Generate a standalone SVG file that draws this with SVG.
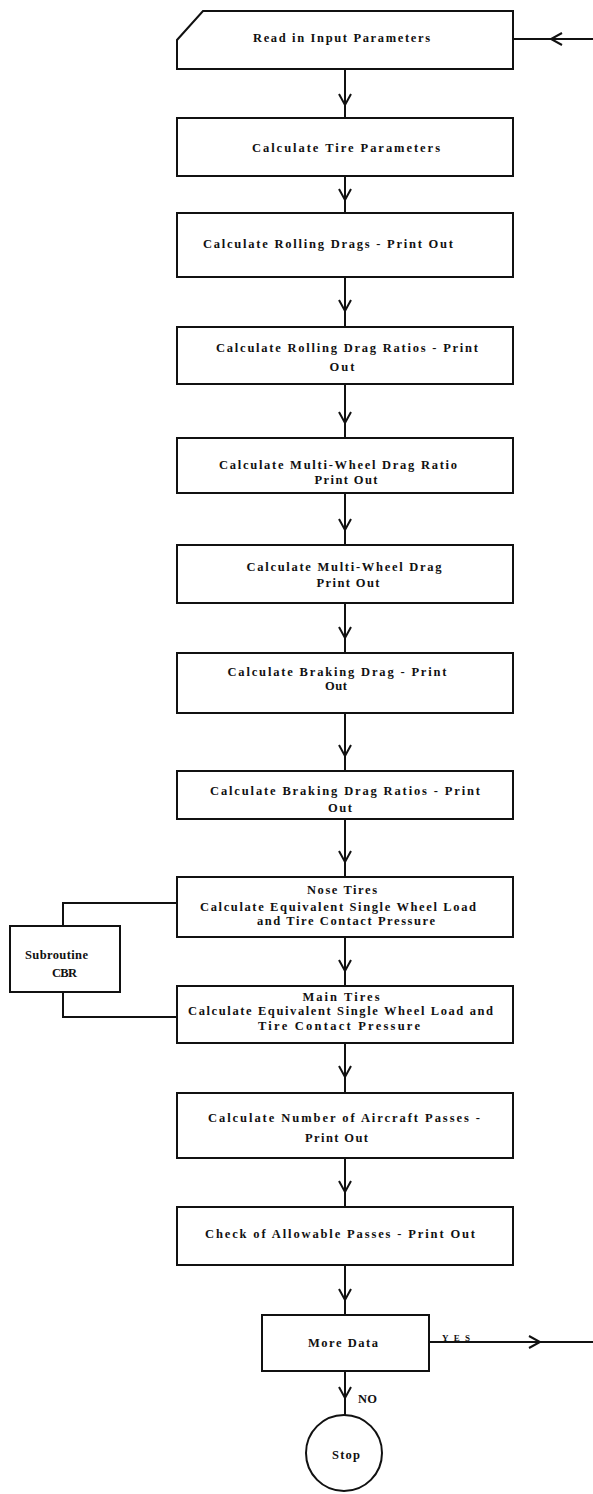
<svg xmlns="http://www.w3.org/2000/svg" width="593" height="1494" viewBox="0 0 593 1494">
<style>
.box{fill:#fff;stroke:#111;stroke-width:2}
.ln{fill:none;stroke:#111;stroke-width:2}
.t{font-family:"Liberation Serif","Times New Roman",serif;font-weight:bold;font-size:12.5px;fill:#111;text-anchor:middle}
.s{font-size:9px}
</style>
<defs>
<marker id="v" markerUnits="userSpaceOnUse" viewBox="-13 -8 15 16" refX="0" refY="0" markerWidth="15" markerHeight="16" orient="auto" overflow="visible">
<path d="M-11,-6 L0,0 L-11,6" fill="none" stroke="#111" stroke-width="2"/>
</marker>
</defs>
<rect width="593" height="1494" fill="#fff"/>
<g id="connectors">
<path class="ln" d="M593,39 L551,39 L513,39" marker-mid="url(#v)"/>
<path class="ln" d="M345,69 L345,105 L345,118" marker-mid="url(#v)"/>
<path class="ln" d="M345,176 L345,200 L345,213" marker-mid="url(#v)"/>
<path class="ln" d="M345,277 L345,311 L345,327" marker-mid="url(#v)"/>
<path class="ln" d="M345,384 L345,423 L345,438" marker-mid="url(#v)"/>
<path class="ln" d="M345,493 L345,530 L345,545" marker-mid="url(#v)"/>
<path class="ln" d="M345,603 L345,638 L345,653" marker-mid="url(#v)"/>
<path class="ln" d="M345,713 L345,756 L345,771" marker-mid="url(#v)"/>
<path class="ln" d="M345,819 L345,862 L345,877" marker-mid="url(#v)"/>
<path class="ln" d="M345,937 L345,971 L345,986" marker-mid="url(#v)"/>
<path class="ln" d="M345,1043 L345,1077 L345,1093" marker-mid="url(#v)"/>
<path class="ln" d="M345,1158 L345,1192 L345,1207" marker-mid="url(#v)"/>
<path class="ln" d="M345,1265 L345,1300 L345,1315" marker-mid="url(#v)"/>
<path class="ln" d="M345,1371 L345,1398 L345,1415" marker-mid="url(#v)"/>
<path class="ln" d="M429,1342 L540,1342 L593,1342" marker-mid="url(#v)"/>
<path class="ln" d="M177,903 L63,903 L63,926"/>
<path class="ln" d="M63,992 L63,1017 L177,1017"/>
<text class="t s" x="456" y="1341" textLength="28">YES</text>
<text class="t" x="367.5" y="1403" textLength="19">NO</text>
</g>
<g id="n1"><path class="box" d="M203,11 L513,11 L513,69 L177,69 L177,40 Z"/>
<text class="t" x="341.5" y="42" textLength="177">Read in Input Parameters</text></g>
<g id="n2"><rect class="box" x="177" y="118" width="336" height="58"/>
<text class="t" x="346" y="152" textLength="188">Calculate Tire Parameters</text></g>
<g id="n3"><rect class="box" x="177" y="213" width="336" height="64"/>
<text class="t" x="328" y="248" textLength="250">Calculate Rolling Drags - Print Out</text></g>
<g id="n4"><rect class="box" x="177" y="327" width="336" height="57"/>
<text class="t" x="347" y="352" textLength="262">Calculate Rolling Drag Ratios - Print</text>
<text class="t" x="342" y="371" textLength="25">Out</text></g>
<g id="n5"><rect class="box" x="177" y="438" width="336" height="55"/>
<text class="t" x="338" y="469" textLength="238">Calculate Multi-Wheel Drag Ratio</text>
<text class="t" x="346" y="484" textLength="63">Print Out</text></g>
<g id="n6"><rect class="box" x="177" y="545" width="336" height="58"/>
<text class="t" x="344" y="571" textLength="195">Calculate Multi-Wheel Drag</text>
<text class="t" x="348" y="587" textLength="63">Print Out</text></g>
<g id="n7"><rect class="box" x="177" y="653" width="336" height="60"/>
<text class="t" x="337" y="676" textLength="219">Calculate Braking Drag - Print</text>
<text class="t" x="336" y="690" textLength="22">Out</text></g>
<g id="n8"><rect class="box" x="177" y="771" width="336" height="48"/>
<text class="t" x="345" y="795" textLength="270">Calculate Braking Drag Ratios - Print</text>
<text class="t" x="340" y="812" textLength="24">Out</text></g>
<g id="n9"><rect class="box" x="177" y="877" width="336" height="60"/>
<text class="t" x="342" y="894" textLength="70">Nose Tires</text>
<text class="t" x="338" y="911" textLength="276">Calculate Equivalent Single Wheel Load</text>
<text class="t" x="346" y="925" textLength="178">and Tire Contact Pressure</text></g>
<g id="sub"><rect class="box" x="10" y="926" width="110" height="66"/>
<text class="t" x="56.5" y="959" textLength="63">Subroutine</text>
<text class="t" x="64.5" y="977" textLength="25">CBR</text></g>
<g id="n10"><rect class="box" x="177" y="986" width="336" height="57"/>
<text class="t" x="341" y="1001" textLength="77">Main Tires</text>
<text class="t" x="340.5" y="1015" textLength="305">Calculate Equivalent Single Wheel Load and</text>
<text class="t" x="339" y="1030" textLength="162">Tire Contact Pressure</text></g>
<g id="n11"><rect class="box" x="177" y="1093" width="336" height="65"/>
<text class="t" x="344" y="1122" textLength="272">Calculate Number of Aircraft Passes -</text>
<text class="t" x="336.5" y="1142" textLength="63">Print Out</text></g>
<g id="n12"><rect class="box" x="177" y="1207" width="336" height="58"/>
<text class="t" x="340" y="1238" textLength="270">Check of Allowable Passes - Print Out</text></g>
<g id="n13"><rect class="box" x="262" y="1315" width="167" height="56"/>
<text class="t" x="343" y="1347" textLength="70">More Data</text></g>
<g id="stop"><circle class="box" cx="344" cy="1453" r="38"/>
<text class="t" x="346" y="1459" textLength="28">Stop</text></g>
</svg>
